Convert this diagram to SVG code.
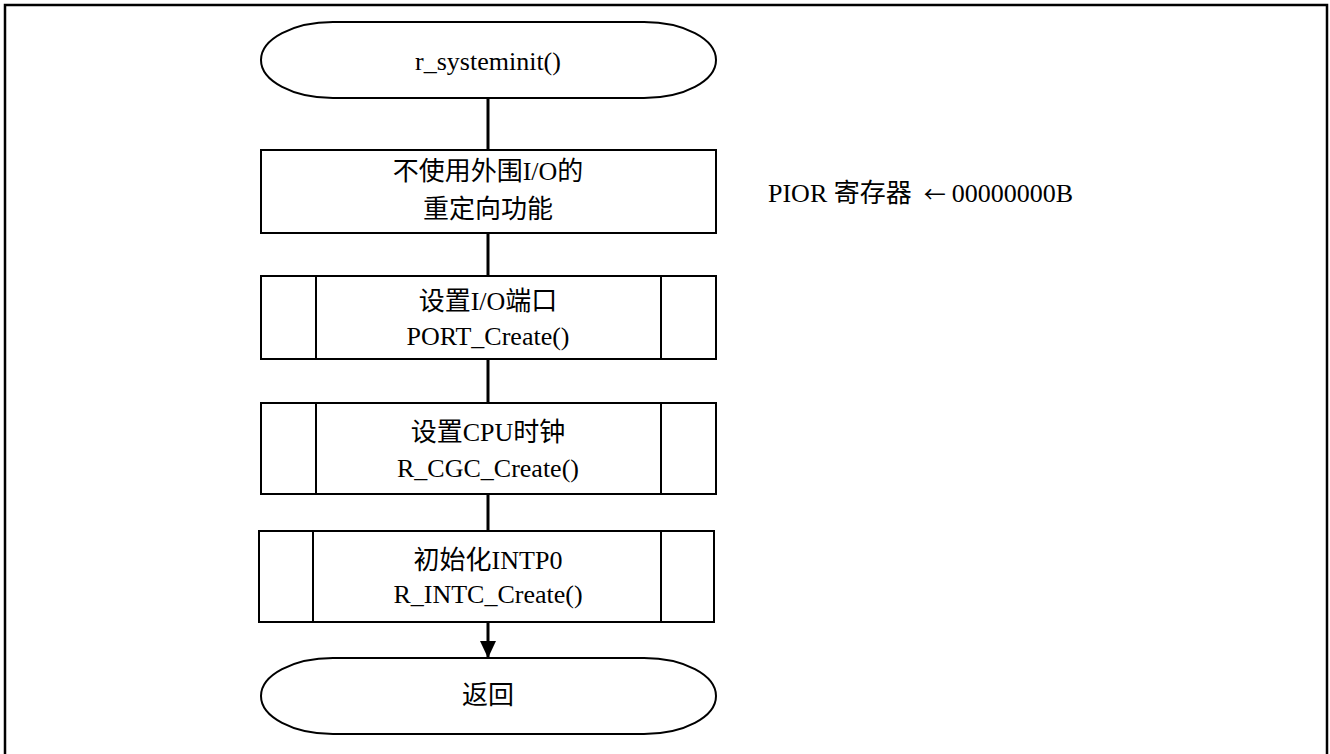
<svg xmlns="http://www.w3.org/2000/svg" width="1330" height="754" viewBox="0 0 1330 754">
<defs>
<style>
.sh{fill:#fff;stroke:#000;stroke-width:2}
.ln{stroke:#000;stroke-width:3;fill:none}
.t{font-family:"Liberation Serif","Noto Sans CJK SC",serif;font-size:26px;fill:#000;text-anchor:middle}
.ar{font-family:"Noto Sans CJK SC",sans-serif;font-size:22px}
</style>
<marker id="ah" markerWidth="18" markerHeight="16" refX="17" refY="8" orient="auto" markerUnits="userSpaceOnUse">
<path d="M0,0 L17,8 L0,16 Z" fill="#000"/>
</marker>
</defs>
<rect width="1330" height="754" fill="#fff"/>
<path d="M5,760 L5,5 L1327,5 L1327,760" fill="none" stroke="#000" stroke-width="2.5"/>
<g id="connectors">
<line class="ln" x1="488" y1="98" x2="488" y2="150"/>
<line class="ln" x1="488" y1="233" x2="488" y2="276"/>
<line class="ln" x1="488" y1="359" x2="488" y2="403"/>
<line class="ln" x1="488" y1="494" x2="488" y2="531"/>
<line class="ln" x1="488" y1="622" x2="488" y2="658" marker-end="url(#ah)"/>
</g>
<g id="start">
<rect class="sh" x="261" y="22" width="455" height="76" rx="72" ry="38"/>
<text class="t" x="488" y="70">r_systeminit()</text>
</g>
<g id="box1">
<rect class="sh" x="261" y="150" width="455" height="83"/>
<text class="t" x="488" y="180">不使用外围I/O的</text>
<text class="t" x="488" y="218">重定向功能</text>
</g>
<g id="note">
<text class="t" x="768" y="202" style="text-anchor:start">PIOR 寄存器<tspan class="ar" dx="12">←</tspan><tspan dx="6">00000000B</tspan></text>
</g>
<g id="box2">
<rect class="sh" x="261" y="276" width="455" height="83"/>
<line class="sh" x1="316" y1="276" x2="316" y2="359"/>
<line class="sh" x1="661" y1="276" x2="661" y2="359"/>
<text class="t" x="488" y="310">设置I/O端口</text>
<text class="t" x="488" y="345">PORT_Create()</text>
</g>
<g id="box3">
<rect class="sh" x="261" y="403" width="455" height="91"/>
<line class="sh" x1="316" y1="403" x2="316" y2="494"/>
<line class="sh" x1="661" y1="403" x2="661" y2="494"/>
<text class="t" x="488" y="441">设置CPU时钟</text>
<text class="t" x="488" y="477">R_CGC_Create()</text>
</g>
<g id="box4">
<rect class="sh" x="259" y="531" width="455" height="91"/>
<line class="sh" x1="313" y1="531" x2="313" y2="622"/>
<line class="sh" x1="661" y1="531" x2="661" y2="622"/>
<text class="t" x="488" y="569">初始化INTP0</text>
<text class="t" x="488" y="603">R_INTC_Create()</text>
</g>
<g id="end">
<rect class="sh" x="261" y="658" width="455" height="76" rx="72" ry="38"/>
<text class="t" x="488" y="704">返回</text>
</g>
</svg>
